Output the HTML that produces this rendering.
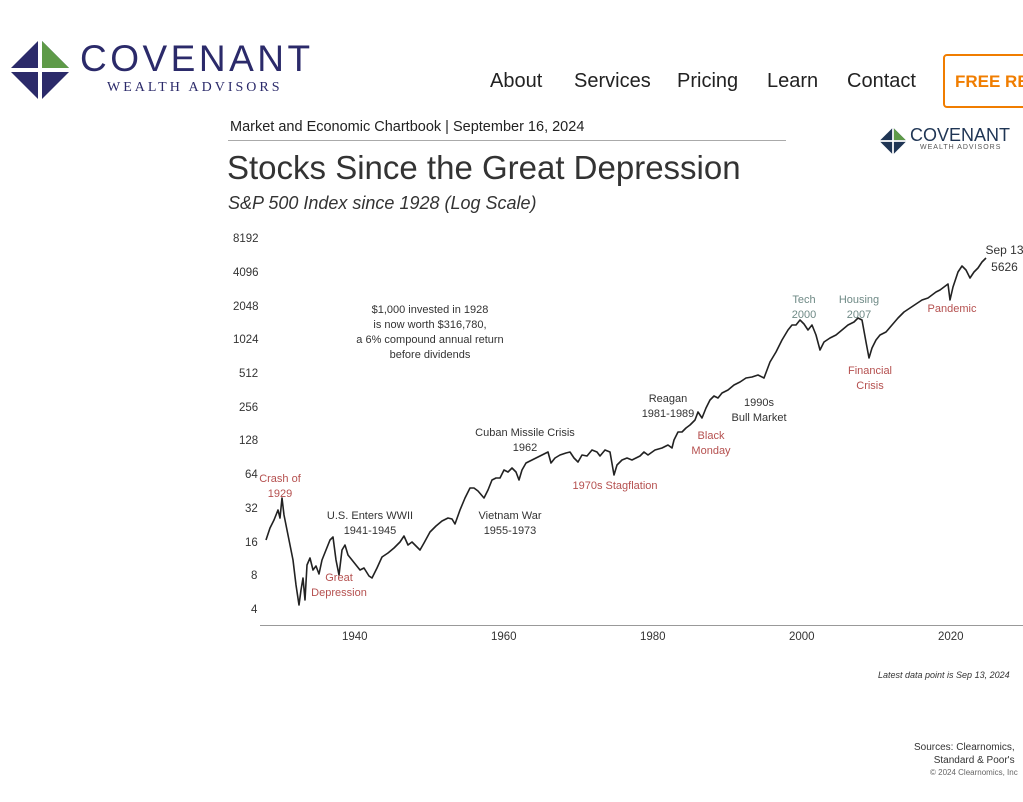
<!DOCTYPE html>
<html><head><meta charset="utf-8"><style>
body{margin:0;width:1023px;height:802px;overflow:hidden;background:#fff;font-family:"Liberation Sans",sans-serif;position:relative}
.a{position:absolute;white-space:nowrap}
.nav{font-size:20px;color:#222;top:70px}
.s{font-size:11px;color:#333;text-align:center;line-height:15px}
.r{color:#b5504f}
.g{color:#6f8a86}
.t{font-size:11.5px;color:#333}
</style></head><body>
<svg class="a" style="left:8px;top:38px" width="64" height="64" viewBox="0 0 64 64">
<polygon points="32,1 63,32 32,63 1,32" fill="#2b2a6a"/>
<polygon points="34,3 61,30 34,30" fill="#5e9a48"/>
<rect x="30" y="1" width="4" height="62" fill="#fff"/><rect x="1" y="30" width="62" height="4" fill="#fff"/>
</svg>
<div class="a" style="left:80px;top:38px;font-size:37px;color:#2b2a6a;letter-spacing:3.5px">COVENANT</div>
<div class="a" style="left:107px;top:80px;font-size:14px;color:#2b2a6a;letter-spacing:3px;font-family:'Liberation Serif',serif">WEALTH ADVISORS</div>
<div class="a nav" style="left:490px">About</div>
<div class="a nav" style="left:574px">Services</div>
<div class="a nav" style="left:677px">Pricing</div>
<div class="a nav" style="left:767px">Learn</div>
<div class="a nav" style="left:847px">Contact</div>
<div class="a" style="left:943px;top:54px;width:100px;height:54px;border:2px solid #f07d00;border-radius:4px;box-sizing:border-box"></div>
<div class="a" style="left:955px;top:72px;font-size:17px;font-weight:bold;color:#f07d00">FREE RE</div>

<div class="a" style="left:230px;top:119px;font-size:14.5px;color:#222">Market and Economic Chartbook | September 16, 2024</div>
<div class="a" style="left:228px;top:140px;width:558px;height:1px;background:#aaa"></div>
<div class="a" style="left:227px;top:149px;font-size:33px;color:#333">Stocks Since the Great Depression</div>
<div class="a" style="left:228px;top:193px;font-size:18px;color:#333;font-style:italic">S&amp;P 500 Index since 1928 (Log Scale)</div>
<svg class="a" style="left:879px;top:127px" width="28" height="28" viewBox="0 0 64 64"><polygon points="32,1 63,32 32,63 1,32" fill="#1f3554"/><polygon points="34,3 61,30 34,30" fill="#5e9a48"/><rect x="30" y="1" width="4" height="62" fill="#fff"/><rect x="1" y="30" width="62" height="4" fill="#fff"/></svg>
<div class="a" style="left:910px;top:125px;font-size:18px;color:#1f3554">COVENANT</div>
<div class="a" style="left:920px;top:144px;font-size:7px;color:#555;letter-spacing:1px">WEALTH ADVISORS</div>

<div class="a t" style="left:233px;top:233px">8192</div>
<div class="a t" style="left:233px;top:267px">4096</div>
<div class="a t" style="left:233px;top:301px">2048</div>
<div class="a t" style="left:233px;top:334px">1024</div>
<div class="a t" style="left:239px;top:368px">512</div>
<div class="a t" style="left:239px;top:402px">256</div>
<div class="a t" style="left:239px;top:435px">128</div>
<div class="a t" style="left:245px;top:469px">64</div>
<div class="a t" style="left:245px;top:503px">32</div>
<div class="a t" style="left:245px;top:537px">16</div>
<div class="a t" style="left:251px;top:570px">8</div>
<div class="a t" style="left:251px;top:604px">4</div>
<div class="a" style="left:260px;top:625px;width:763px;height:1px;background:#999"></div>
<div class="a t" style="left:342px;top:631px">1940</div>
<div class="a t" style="left:491px;top:631px">1960</div>
<div class="a t" style="left:640px;top:631px">1980</div>
<div class="a t" style="left:789px;top:631px">2000</div>
<div class="a t" style="left:938px;top:631px">2020</div>

<svg class="a" style="left:0;top:0" width="1023" height="802">
<polyline fill="none" stroke="#222" stroke-width="1.6" stroke-linejoin="round" points="266,540 270,528 274,520 278,510 280,518 282,498 284,515 287,530 290,545 293,560 296,585 299,605 301,590 303,578 305,600 307,565 310,558 313,570 316,566 319,574 322,560 326,550 330,540 333,537 336,560 339,575 342,550 345,545 348,555 352,560 356,565 360,570 364,568 369,576 372,578 377,568 382,557 388,553 394,548 400,542 404,536 408,545 412,542 416,546 420,550 424,543 430,532 436,526 442,521 448,518 452,519 455,524 460,510 465,498 470,488 474,488 478,491 484,498 488,490 492,480 496,478 500,478 504,470 508,472 512,468 516,472 519,480 522,470 526,463 532,460 538,457 544,454 548,452 551,463 555,458 560,455 566,453 570,452 574,458 578,462 582,455 587,456 592,450 597,452 600,456 605,450 610,452 614,475 617,465 622,460 627,458 632,460 636,458 640,456 644,452 648,455 655,450 662,448 668,445 672,448 674,440 678,432 682,432 686,428 690,425 695,420 698,412 702,418 706,408 710,400 714,396 718,398 722,393 728,390 734,385 740,382 746,378 752,377 758,375 764,378 770,362 776,352 782,340 788,330 792,325 796,325 800,320 804,324 808,330 812,325 816,335 820,350 824,342 830,338 836,335 842,330 848,325 854,322 858,318 862,320 866,342 869,358 872,348 876,340 880,335 886,332 892,325 898,318 904,312 910,308 916,304 922,300 928,298 932,295 936,292 940,290 944,287 948,284 950,300 953,287 958,272 962,266 966,270 970,278 974,272 978,268 982,262 986,258"/>
</svg>

<div class="a s" style="left:340px;top:303px;width:180px">$1,000 invested in 1928<br>is now worth $316,780,<br>a 6% compound annual return<br>before dividends</div>
<div class="a s r" style="left:255px;top:472px;width:50px">Crash of<br>1929</div>
<div class="a s r" style="left:304px;top:571px;width:70px">Great<br>Depression</div>
<div class="a s" style="left:320px;top:509px;width:100px">U.S. Enters WWII<br>1941-1945</div>
<div class="a s" style="left:460px;top:509px;width:100px">Vietnam War<br>1955-1973</div>
<div class="a s" style="left:465px;top:426px;width:120px">Cuban Missile Crisis<br>1962</div>
<div class="a s r" style="left:560px;top:479px;width:110px">1970s Stagflation</div>
<div class="a s" style="left:635px;top:392px;width:66px">Reagan<br>1981-1989</div>
<div class="a s r" style="left:681px;top:429px;width:60px">Black<br>Monday</div>
<div class="a s" style="left:724px;top:396px;width:70px">1990s<br>Bull Market</div>
<div class="a s g" style="left:784px;top:293px;width:40px">Tech<br>2000</div>
<div class="a s g" style="left:834px;top:293px;width:50px">Housing<br>2007</div>
<div class="a s r" style="left:840px;top:364px;width:60px">Financial<br>Crisis</div>
<div class="a s r" style="left:922px;top:302px;width:60px">Pandemic</div>
<div class="a s" style="left:982px;top:242px;width:45px;font-size:12px;line-height:17px">Sep 13<br>5626</div>
<div class="a" style="left:878px;top:670px;font-size:9px;font-style:italic;color:#333">Latest data point is Sep 13, 2024</div>
<div class="a" style="left:914px;top:741px;font-size:10px;color:#333;line-height:13px;text-align:right">Sources: Clearnomics,<br>Standard &amp; Poor's</div>
<div class="a" style="left:930px;top:768px;font-size:8px;color:#666">© 2024 Clearnomics, Inc</div>
</body></html>
